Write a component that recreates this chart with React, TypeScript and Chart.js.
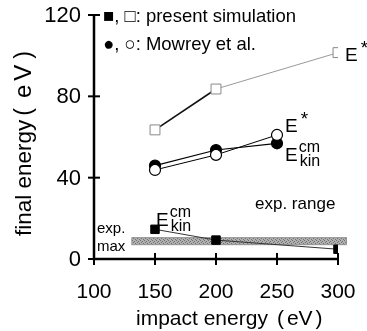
import React, { useEffect, useRef } from "react";
import { Chart, registerables } from "chart.js";
Chart.register(...registerables);

const xTicks = [100, 150, 200, 250, 300];
const yTicks = [0, 40, 80, 120];
const presentEstarX = [150, 200, 300];
const presentEstarY = [63.5, 83.6, 101.5];
const presentEkinX = [150, 200, 300];
const presentEkinY = [14.6, 9.3, 4.8];
const mowreyX = [150, 200, 250];
const mowreyEkinY = [45.9, 53.6, 56.9];
const mowreyEstarY = [43.8, 51.2, 61.0];
const expRangeX = [131, 307];
const expRangeY = [7.0, 10.5];

const FONT = '"Liberation Sans", Arial, Helvetica, sans-serif';

const pts = (xs: number[], ys: number[]) => xs.map((x, i) => ({ x, y: ys[i] }));

function makePattern(ctx: CanvasRenderingContext2D) {
  const c = document.createElement("canvas");
  c.width = 4;
  c.height = 4;
  const g = c.getContext("2d")!;
  g.fillStyle = "#b0b0b0";
  g.fillRect(0, 0, 4, 4);
  g.fillStyle = "#707070";
  g.fillRect(0, 0, 1, 1);
  g.fillRect(2, 1, 1, 1);
  g.fillRect(1, 2, 1, 1);
  g.fillRect(3, 3, 1, 1);
  return ctx.createPattern(c, "repeat")!;
}

function drawE(ctx: CanvasRenderingContext2D, x: number, y: number, sup: string, sub: string) {
  ctx.save();
  ctx.fillStyle = "#000";
  ctx.textBaseline = "alphabetic";
  ctx.textAlign = "left";
  ctx.font = `19px ${FONT}`;
  ctx.fillText("E", x, y);
  const w = ctx.measureText("E").width;
  if (sup) {
    ctx.font = `${sup === "*" ? 19 : 16}px ${FONT}`;
    ctx.fillText(sup, x + w + (sup === "*" ? 3 : 1), y - (sup === "*" ? 7 : 9));
  }
  if (sub) {
    ctx.font = `16px ${FONT}`;
    ctx.fillText(sub, x + w + 2, y + 5);
  }
  ctx.restore();
}

// draws pieces of text along a baseline, each piece at [text, fontSize, gapBefore]
function drawPieces(ctx: CanvasRenderingContext2D, pieces: [string, number, number][], x: number, y: number) {
  let cx = x;
  pieces.forEach(([t, fs, gap]) => {
    cx += gap;
    ctx.font = `${fs}px ${FONT}`;
    ctx.fillText(t, cx, y);
    cx += ctx.measureText(t).width;
  });
}

const drawPlugin = {
  id: "custom",
  beforeDatasetsDraw(chart: any) {
    const ctx: CanvasRenderingContext2D = chart.ctx;
    const xs = chart.scales.x;
    const ys = chart.scales.y;
    // exp range band
    ctx.save();
    const bx0 = xs.getPixelForValue(expRangeX[0]);
    const bx1 = xs.getPixelForValue(expRangeX[1]);
    const by0 = ys.getPixelForValue(expRangeY[1]);
    const by1 = ys.getPixelForValue(expRangeY[0]);
    ctx.fillStyle = makePattern(ctx);
    ctx.fillRect(bx0, by0, bx1 - bx0, by1 - by0);
    ctx.strokeStyle = "#888";
    ctx.lineWidth = 0.8;
    ctx.strokeRect(bx0, by0, bx1 - bx0, by1 - by0);
    ctx.restore();

    // axes
    ctx.save();
    ctx.strokeStyle = "#000";
    ctx.lineWidth = 2.5;
    const ax = xs.getPixelForValue(xTicks[0]);
    const ay = ys.getPixelForValue(yTicks[0]);
    const ayTop = ys.getPixelForValue(yTicks[yTicks.length - 1]);
    const axRight = xs.getPixelForValue(xTicks[xTicks.length - 1]);
    ctx.beginPath();
    ctx.moveTo(ax, ayTop);
    ctx.lineTo(ax, ay);
    ctx.lineTo(axRight, ay);
    ctx.stroke();
    ctx.lineWidth = 2;
    yTicks.forEach((v) => {
      const p = ys.getPixelForValue(v);
      ctx.beginPath();
      ctx.moveTo(ax - 6, p);
      ctx.lineTo(ax + 6, p);
      ctx.stroke();
    });
    xTicks.forEach((v) => {
      const p = xs.getPixelForValue(v);
      ctx.beginPath();
      ctx.moveTo(p, ay - 6);
      ctx.lineTo(p, ay + 6);
      ctx.stroke();
    });
    ctx.fillStyle = "#000";
    ctx.font = `22px ${FONT}`;
    ctx.textAlign = "right";
    ctx.textBaseline = "middle";
    yTicks.forEach((v) => {
      ctx.fillText(String(v), ax - 13, ys.getPixelForValue(v) + 1);
    });
    ctx.font = `21px ${FONT}`;
    ctx.textAlign = "center";
    ctx.textBaseline = "top";
    xTicks.forEach((v) => {
      ctx.fillText(String(v), xs.getPixelForValue(v), ay + 23);
    });
    // axis titles
    ctx.textAlign = "left";
    ctx.textBaseline = "alphabetic";
    drawPieces(
      ctx,
      [
        ["impact energy", 21, 0],
        ["(", 21, 9],
        ["eV", 21, 3],
        [")", 21, 3],
      ],
      136,
      325
    );
    ctx.save();
    ctx.translate(31, 236);
    ctx.rotate(-Math.PI / 2);
    drawPieces(
      ctx,
      [
        ["final energy", 22.5, 0],
        ["(", 23, 4],
        ["e", 24, 10],
        ["V", 24, 4],
        [")", 23, 6],
      ],
      0,
      0
    );
    ctx.restore();

    // legend texts
    ctx.textAlign = "left";
    ctx.textBaseline = "middle";
    ctx.font = `18.5px ${FONT}`;
    ctx.fillText("■, □: present simulation", ax + 9, 17);
    ctx.fillText("●, ○: Mowrey et al.", ax + 9, 45);

    // annotations
    ctx.font = `17px ${FONT}`;
    ctx.fillText("exp. range", 255, 204);
    ctx.font = `15px ${FONT}`;
    ctx.fillText("exp.", ax + 3, 229);
    ctx.fillText("max", ax + 3, 247);
    ctx.restore();

    const p300 = { x: xs.getPixelForValue(300), y: ys.getPixelForValue(presentEstarY[2]) };
    drawE(ctx, p300.x + 7, p300.y + 8, "*", "");
    const p250 = { x: xs.getPixelForValue(250), y: ys.getPixelForValue(mowreyEstarY[2]) };
    drawE(ctx, p250.x + 8, p250.y - 3, "*", "");
    drawE(ctx, p250.x + 8, p250.y + 26, "cm", "kin");
    const p150 = { x: xs.getPixelForValue(150), y: ys.getPixelForValue(presentEkinY[0]) };
    drawE(ctx, p150.x + 1, p150.y - 3, "cm", "kin");
  },
};

export default function App() {
  const ref = useRef<HTMLCanvasElement>(null);
  useEffect(() => {
    const ctx = ref.current!.getContext("2d")!;
    const chart = new Chart(ctx, {
      type: "scatter",
      data: {
        datasets: [
          {
            data: pts(mowreyX, mowreyEstarY),
            showLine: true,
            borderColor: "#000",
            borderWidth: 1,
            pointStyle: "circle",
            pointRadius: 5.5,
            pointBackgroundColor: "#fff",
            pointBorderColor: "#000",
            pointBorderWidth: 1.2,
            order: 1,
          },
          {
            data: pts(mowreyX, mowreyEkinY),
            showLine: true,
            borderColor: "#000",
            borderWidth: 1.2,
            pointStyle: "circle",
            pointRadius: 5.5,
            pointBackgroundColor: "#000",
            pointBorderColor: "#000",
            order: 2,
          },
          {
            data: pts(presentEstarX, presentEstarY),
            showLine: true,
            borderColor: "#111",
            borderWidth: 1.5,
            segment: {
              borderColor: (c: any) => (c.p0DataIndex === 0 ? "#111" : "#999"),
              borderWidth: (c: any) => (c.p0DataIndex === 0 ? 1.6 : 1),
            },
            pointStyle: "rect",
            pointRadius: 7,
            pointBackgroundColor: "#fff",
            pointBorderColor: "#888",
            pointBorderWidth: 1,
            order: 3,
          },
          {
            data: pts(presentEkinX, presentEkinY),
            showLine: true,
            borderColor: "#333",
            borderWidth: 1,
            pointStyle: "rect",
            pointRadius: 6,
            pointBackgroundColor: "#000",
            pointBorderColor: "#000",
            order: 4,
          },
        ],
      },
      options: {
        animation: false,
        responsive: false,
        layout: { padding: { left: 94, right: 29, top: 15, bottom: 72 } },
        plugins: { legend: { display: false }, tooltip: { enabled: false } },
        scales: {
          x: { type: "linear", min: 100, max: 300, display: false },
          y: { type: "linear", min: 0, max: 120, display: false },
        },
      } as any,
      plugins: [drawPlugin],
    });
    return () => chart.destroy();
  }, []);
  return (
    <div style={{ position: "absolute", left: 0, top: 0, width: 367, height: 331, background: "#fff" }}>
      <canvas ref={ref} width={367} height={331} />
    </div>
  );
}
